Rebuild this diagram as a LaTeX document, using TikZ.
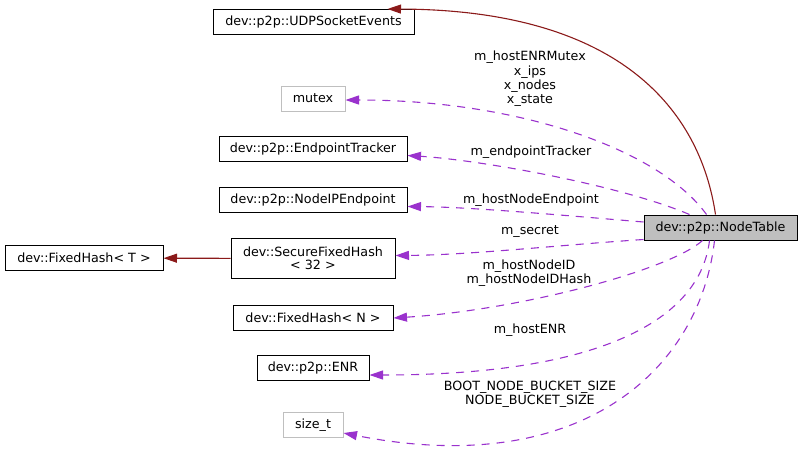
\documentclass[tikz,border=0pt]{standalone}
\usepackage{fontspec}
\setmainfont{DejaVu Sans}
\usetikzlibrary{calc,positioning,arrows.meta}

\definecolor{inhred}{HTML}{8B1A1A}
\definecolor{usepurple}{HTML}{9A32CD}
\definecolor{undocgray}{HTML}{BFBFBF}

\tikzset{
  dotfont/.style={font=\fontsize{12.7}{14.3}\selectfont},
  classbox/.style={draw,line width=1pt,rectangle,minimum height=25pt,inner sep=0pt,align=center,dotfont},
  extbox/.style={classbox,draw=undocgray},
  membername/.style={inner sep=0pt,align=center,dotfont},
  useedge/.style={draw,color=usepurple,line width=1.1pt,dash pattern=on 8pt off 7pt,-{Triangle[length=13.5pt,width=9pt]}},
  inhedge/.style={draw,color=inhred,line width=1.1pt,-{Triangle[length=13.5pt,width=9pt]}}
}

\begin{document}
\begin{tikzpicture}[x=1pt,y=-1pt]

  \useasboundingbox (0,0) rectangle (803,453);

  \node [classbox, fill=undocgray, minimum width=153pt] at(720.5,227.5) (nodetable) {dev::p2p::NodeTable};

  \node [classbox, minimum width=201pt] at(313.5,22) (udp) {dev::p2p::UDPSocketEvents};
  \node [extbox, minimum width=64pt] at(313,98.5) (mutex) {mutex};
  \node [classbox, minimum width=188pt] at(313,149) (tracker) {dev::p2p::EndpointTracker};
  \node [classbox, minimum width=188pt] at(313,200) (nodeip) {dev::p2p::NodeIPEndpoint};
  \node [classbox, minimum width=164pt, minimum height=40pt] at(313,258.5) (securehash) {dev::SecureFixedHash\\[-1pt]< 32 >};
  \node [classbox, minimum width=158pt] at(84,258) (fixedhash_t) {dev::FixedHash< T >};
  \node [classbox, minimum width=160pt] at(313,318) (fixedhash_n) {dev::FixedHash< N >};
  \node [classbox, minimum width=112pt] at(313,368) (enr) {dev::p2p::ENR};
  \node [extbox, minimum width=60pt] at(313,425) (sizet) {size\_t};

  % inheritance
  \path [inhedge] (securehash) edge (fixedhash_t);
  \draw [inhedge] ($(nodetable.north west)+(72,0)$) .. controls (700,110) and (620,10) .. ($(udp.north east)+(-27,0)$);

  % usage
  \draw [useedge] ($(nodetable.north west)+(63,0)$) .. controls (660,150) and (520,100) .. ($(mutex.east)+(0,1.5)$);
  \draw [useedge] ($(nodetable.north west)+(46,0)$) .. controls (620,185) and (480,160) .. ($(tracker.east)+(0,6.5)$);
  \draw [useedge] ($(nodetable.west)+(0,-5.5)$) .. controls (560,215) and (470,207) .. ($(nodeip.east)+(0,6.5)$);
  \draw [useedge] ($(nodetable.south west)+(0,-1)$) .. controls (560,245) and (470,255) .. ($(securehash.east)+(0,-3)$);
  \draw [useedge] ($(nodetable.south west)+(59,0)$) .. controls (670,270) and (520,310) .. (fixedhash_n.east);
  \draw [useedge] ($(nodetable.south west)+(66,0)$) .. controls (700,320) and (600,375) .. ($(enr.east)+(0,7)$);
  \draw [useedge] ($(nodetable.south west)+(71,0)$) .. controls (700,370) and (580,480) .. ($(sizet.east)+(0,8)$);

  \node [membername] at(530,79) (lbl_mutex) {m\_hostENRMutex\\x\_ips\\x\_nodes\\x\_state};
  \node [membername] at(531,152) (lbl_tracker) {m\_endpointTracker};
  \node [membername] at(531,200.5) (lbl_nodeip) {m\_hostNodeEndpoint};
  \node [membername] at(530,232) (lbl_secret) {m\_secret};
  \node [membername] at(529,273.5) (lbl_nodeid) {m\_hostNodeID\\m\_hostNodeIDHash};
  \node [membername] at(530,330) (lbl_enr) {m\_hostENR};
  \node [membername] at(530,394.5) (lbl_bucket) {BOOT\_NODE\_BUCKET\_SIZE\\NODE\_BUCKET\_SIZE};

\end{tikzpicture}
\end{document}
